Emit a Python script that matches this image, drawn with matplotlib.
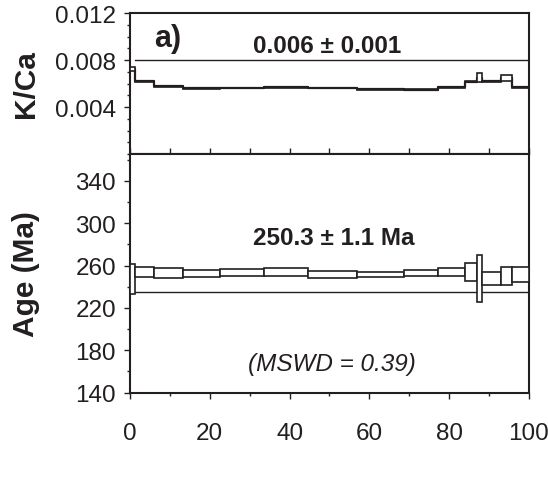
"""
Ar-Ar step-heating spectrum: K/Ca ratio (top) and apparent age (bottom)
against cumulative % 39Ar released.
"""

import numpy as np
import matplotlib.pyplot as plt
from matplotlib.patches import Rectangle
from matplotlib.ticker import MultipleLocator

plt.rcParams['font.family'] = ['Liberation Sans', 'DejaVu Sans']

INK = '#231f20'

# cumulative 39Ar released (%) at step boundaries
step_edges = [0, 1.25, 6.1, 13.2, 22.6, 33.5, 44.6, 56.8, 68.75, 77.3,
              84.0, 86.9, 88.2, 92.9, 95.7, 100]

# apparent age per step (Ma) and 2-sigma half-width
age = [247.3, 253.9, 252.8, 252.5, 253.3, 254.0, 251.7, 251.8, 253.0,
       253.7, 254.0, 247.7, 247.8, 250.5, 251.6]
age_err = [14.2, 5.0, 4.5, 3.6, 3.5, 3.5, 3.2, 2.5, 3.1,
           3.8, 8.3, 22.4, 5.9, 8.6, 6.8]

# K/Ca per step and half-width
kca = [0.00724, 0.00621, 0.00576, 0.00559, 0.00562, 0.00568, 0.00562,
       0.00553, 0.00547, 0.00567, 0.00615, 0.00650, 0.00620, 0.00647,
       0.00567]
kca_err = [0.00014, 0.00004, 0.00004, 0.00004, 0.00004, 0.00004, 0.00004,
           0.00004, 0.00004, 0.00004, 0.00004, 0.00038, 0.00004, 0.00028,
           0.00004]

kca_ref = 0.008
age_ref = 235.0
ref_start = 1.25

fig = plt.figure(figsize=(5.48, 5.02), dpi=100)
ax_k = fig.add_axes([0.2372, 0.6912, 0.7281, 0.2809])
ax_a = fig.add_axes([0.2372, 0.2161, 0.7281, 0.4751])


def draw_spectrum(ax, edges, vals, errs, connect=False):
    edges = np.asarray(edges)
    vals = np.asarray(vals)
    if connect:
        ax.step(edges, np.append(vals, vals[-1]), where='post',
                color=INK, lw=1.6, zorder=2)
    for x0, x1, v, e in zip(edges[:-1], edges[1:], vals, errs):
        ax.add_patch(Rectangle((x0, v - e), x1 - x0, 2 * e,
                               facecolor='white', edgecolor=INK,
                               lw=1.2, zorder=3))


# K/Ca panel
draw_spectrum(ax_k, step_edges, kca, kca_err, connect=True)
ax_k.plot([ref_start, 100], [kca_ref, kca_ref], color=INK, lw=1.0)
ax_k.set_xlim(0, 100)
ax_k.set_ylim(0, 0.012)
ax_k.set_yticks([0.004, 0.008, 0.012])
ax_k.set_yticklabels(['0.004', '0.008', '0.012'])
ax_k.yaxis.set_minor_locator(MultipleLocator(0.001))
ax_k.xaxis.set_major_locator(MultipleLocator(10))
ax_k.tick_params(axis='x', which='major', direction='in', length=3,
                 labelbottom=False, color=INK)
ax_k.set_ylabel('K/Ca', fontsize=21.5, fontweight='bold', color=INK)
ax_k.yaxis.set_label_coords(-0.225, 0.5)
ax_k.text(6, 0.0099, 'a)', fontsize=22, fontweight='bold', color=INK,
          ha='left', va='center')
ax_k.text(49.4, 0.0092, '0.006 \u00b1 0.001', fontsize=17.5, fontweight='bold',
          color=INK, ha='center', va='center')

# age panel
draw_spectrum(ax_a, step_edges, age, age_err)
ax_a.plot([ref_start, 100], [age_ref, age_ref], color=INK, lw=1.0, zorder=2)
ax_a.set_xlim(0, 100)
ax_a.set_ylim(140, 365.5)
ax_a.set_yticks([140, 180, 220, 260, 300, 340])
ax_a.yaxis.set_minor_locator(MultipleLocator(20))
ax_a.set_xticks([0, 20, 40, 60, 80, 100])
ax_a.xaxis.set_minor_locator(MultipleLocator(10))
ax_a.tick_params(axis='x', which='major', pad=17)
ax_a.set_ylabel('Age (Ma)', fontsize=21.5, fontweight='bold', color=INK)
ax_a.yaxis.set_label_coords(-0.225, 0.5)
ax_a.text(51, 287, '250.3 \u00b1 1.1 Ma', fontsize=17.5, fontweight='bold',
          color=INK, ha='center', va='center')
ax_a.text(50.6, 167, '(MSWD = 0.39)', fontsize=17.5, fontstyle='italic',
          color=INK, ha='center', va='center')

for ax in (ax_k, ax_a):
    for sp in ax.spines.values():
        sp.set_linewidth(1.5)
        sp.set_color(INK)
    ax.tick_params(axis='both', which='major', labelsize=17.5, colors=INK,
                   length=4, width=1)
    ax.tick_params(axis='both', which='minor', length=2.5, width=1, color=INK)
    ax.tick_params(axis='y', which='both', direction='out', pad=6)

ax_k.tick_params(axis='x', which='both', direction='in')
ax_a.tick_params(axis='x', which='both', direction='out')

fig.savefig('out.png', dpi=100)
